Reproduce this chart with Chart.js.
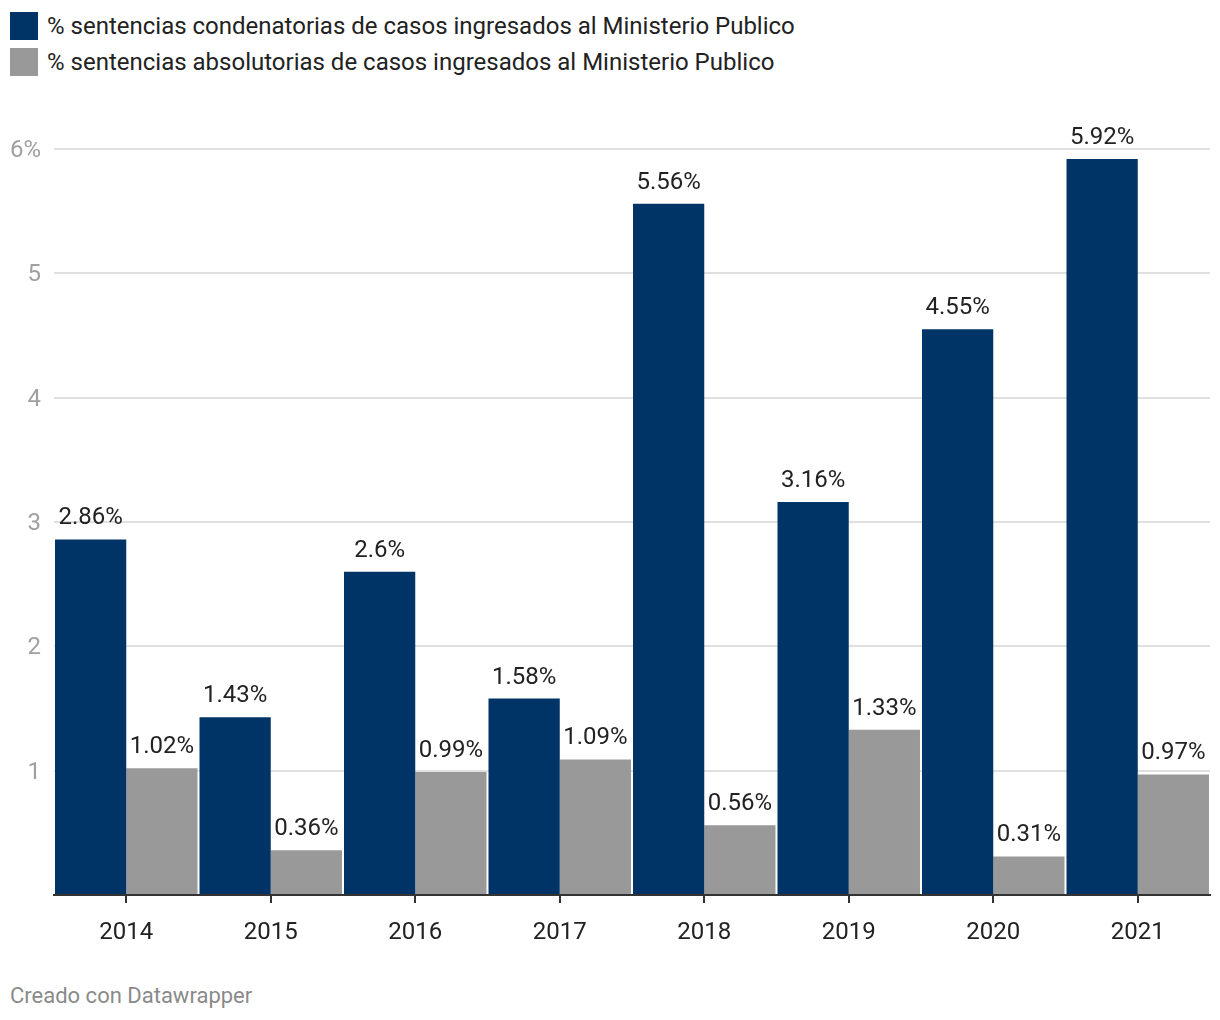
<!DOCTYPE html>
<html>
<head>
<meta charset="utf-8">
<script src="https://cdn.jsdelivr.net/npm/chart.js@4/dist/chart.umd.min.js"></script>
<style>
  body { margin: 0; background: #fff; font-family: Roboto, sans-serif; }
  #wrap { position: relative; width: 1220px; height: 1020px; }
  .leg { position: absolute; left: 10px; font-size: 24px; color: #222; line-height: 28px; white-space: nowrap; }
  .leg span { display: inline-block; width: 28px; height: 28px; vertical-align: top; margin-right: 9px; }
  #box { position: absolute; left: 0; top: 100px; width: 1220px; height: 860px; }
  #foot { position: absolute; left: 10px; top: 983px; font-size: 22px; color: #8a8a8a; }
</style>
</head>
<body>
<div id="wrap">
  <div class="leg" style="top:12px"><span style="background:#003366"></span>% sentencias condenatorias de casos ingresados al Ministerio Publico</div>
  <div class="leg" style="top:48px"><span style="background:#999999"></span>% sentencias absolutorias de casos ingresados al Ministerio Publico</div>
  <div id="box"><canvas id="chart"></canvas></div>
  <div id="foot">Creado con Datawrapper</div>
</div>
<script>
const years = ['2014', '2015', '2016', '2017', '2018', '2019', '2020', '2021'];
const condenatorias = [2.86, 1.43, 2.6, 1.58, 5.56, 3.16, 4.55, 5.92];
const absolutorias = [1.02, 0.36, 0.99, 1.09, 0.56, 1.33, 0.31, 0.97];
const yTicks = [0, 1, 2, 3, 4, 5, 6];

// labels above every bar
const barLabels = {
    id: 'barLabels',
    afterDatasetsDraw(chart) {
        const ctx = chart.ctx;
        ctx.save();
        ctx.font = '24px Roboto';
        ctx.fillStyle = '#222';
        ctx.textAlign = 'center';
        ctx.textBaseline = 'alphabetic';
        chart.data.datasets.forEach((ds, i) => {
            chart.getDatasetMeta(i).data.forEach((bar, j) => {
                ctx.fillText(ds.data[j] + '%', bar.x, bar.y - 15);
            });
        });
        ctx.restore();
    }
};

const config = {
    type: 'bar',
    data: {
        labels: years,
        datasets: [
            { label: 'condenatorias', data: condenatorias, backgroundColor: '#003366' },
            { label: 'absolutorias', data: absolutorias, backgroundColor: '#999999' }
        ]
    },
    options: {
        responsive: true,
        maintainAspectRatio: false,
        animation: false,
        layout: { padding: { top: 49, right: 10, left: 0, bottom: 0 } },
        datasets: { bar: { categoryPercentage: 0.986, barPercentage: 1, borderWidth: 0 } },
        plugins: { legend: { display: false }, tooltip: { enabled: false } },
        scales: {
            x: {
                grid: { drawOnChartArea: false, offset: false, tickLength: 8, color: '#333', lineWidth: 2 },
                border: { color: '#333', width: 2 },
                ticks: { color: '#222', font: { family: 'Roboto', size: 24 }, padding: 16 },
                afterFit(scale) { scale.height = 65; }
            },
            y: {
                min: 0,
                max: 6,
                afterBuildTicks(scale) { scale.ticks = yTicks.map(v => ({ value: v })); },
                grid: { color: c => c.tick.value === 0 ? 'rgba(0,0,0,0)' : '#e0e0e0', lineWidth: 2, drawTicks: false },
                border: { display: false },
                ticks: {
                    color: '#a0a0a0',
                    font: { family: 'Roboto', size: 24 },
                    padding: 13,
                    labelOffset: 2,
                    callback: v => v === 0 ? '' : (v === 6 ? '6%' : String(v))
                },
                afterFit(scale) { scale.width = 54; }
            }
        }
    },
    plugins: [barLabels]
};

const chart = new Chart(document.getElementById('chart'), config);
</script>
</body>
</html>
